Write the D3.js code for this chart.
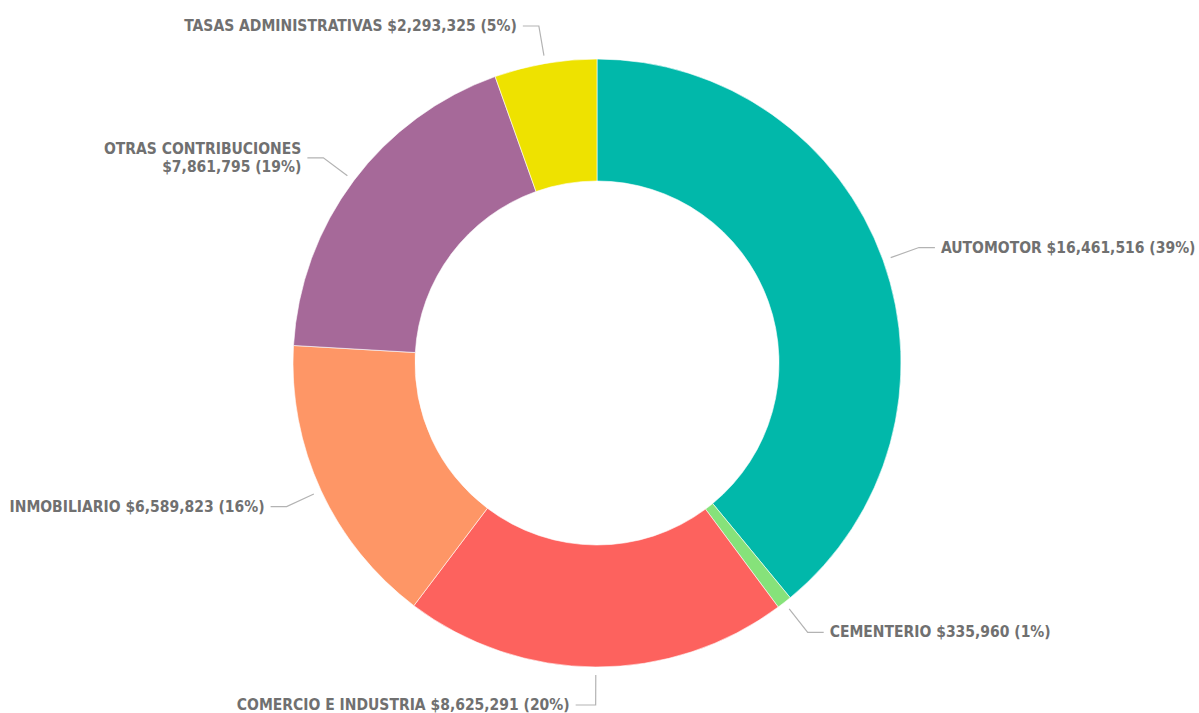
<!DOCTYPE html>
<html>
<head>
<meta charset="utf-8">
<script src="https://cdn.jsdelivr.net/npm/d3@7"></script>
<style>
  html, body { margin: 0; padding: 0; background: #fff; }
  svg { display: block; }
  .lbl { font-family: "DejaVu Sans Condensed", "DejaVu Sans", sans-serif; font-stretch: condensed; font-weight: bold; font-size: 15.5px; fill: #707070; }
</style>
</head>
<body>
<svg id="chart" width="1199" height="713"></svg>
<script>
const categories = ["AUTOMOTOR", "CEMENTERIO", "COMERCIO E INDUSTRIA", "INMOBILIARIO", "OTRAS CONTRIBUCIONES", "TASAS ADMINISTRATIVAS"];
const values = [16461516, 335960, 8625291, 6589823, 7861795, 2293325];
const percentLabels = ["39%", "1%", "20%", "16%", "19%", "5%"];
const colors = ["#01B8AA", "#86E27A", "#FD625E", "#FE9666", "#A66999", "#EEE200"];
const twoLineLabels = ["OTRAS CONTRIBUCIONES"];

const W = 1199, H = 713;
const cx = 597, cy = 363;
const outerR = 304, innerR = 182;

const svg = d3.select("#chart");
const g = svg.append("g").attr("transform", `translate(${cx},${cy})`);

const data = categories.map((c, i) => ({ cat: c, value: values[i], pct: percentLabels[i], color: colors[i] }));

const pie = d3.pie().value(d => d.value).sort(null);
const arcs = pie(data);
const arc = d3.arc().innerRadius(innerR).outerRadius(outerR);

g.selectAll("path.slice")
  .data(arcs)
  .join("path")
  .attr("class", "slice")
  .attr("d", arc)
  .attr("fill", d => d.data.color)
  .attr("stroke", "#fff")
  .attr("stroke-width", 0.6);

const fmt = d3.format("$,");
const startArc = d3.arc().innerRadius(312).outerRadius(312);
const elbowArc = d3.arc().innerRadius(342).outerRadius(342);

arcs.forEach(d => {
  const mid = (d.startAngle + d.endAngle) / 2;
  const p0 = startArc.centroid(d);
  const p1 = elbowArc.centroid(d);
  const right = Math.sin(mid) >= 0;
  const vertical = Math.abs(Math.sin(mid)) < 0.02;
  const hLen = vertical ? 20 : 16;
  const dir = (vertical ? -1 : (right ? 1 : -1));
  const p2 = [p1[0] + dir * hLen, p1[1]];
  g.append("polyline")
    .attr("points", [p0, p1, p2].map(p => p.join(",")).join(" "))
    .attr("fill", "none")
    .attr("stroke", "#b3b3b3")
    .attr("stroke-width", 1.2);
  const anchor = dir > 0 ? "start" : "end";
  const tx = p2[0] + dir * 6;
  const t = g.append("text")
    .attr("class", "lbl")
    .attr("text-anchor", anchor)
    .attr("x", tx)
    .attr("y", p2[1])
    .attr("dominant-baseline", "central");
  const valueText = `${fmt(d.data.value)} (${d.data.pct})`;
  if (twoLineLabels.includes(d.data.cat)) {
    t.append("tspan").attr("x", tx).attr("dy", "-0.6em").text(d.data.cat);
    t.append("tspan").attr("x", tx).attr("dy", "1.2em").text(valueText);
  } else {
    t.text(`${d.data.cat} ${valueText}`);
  }
});
</script>
</body>
</html>
